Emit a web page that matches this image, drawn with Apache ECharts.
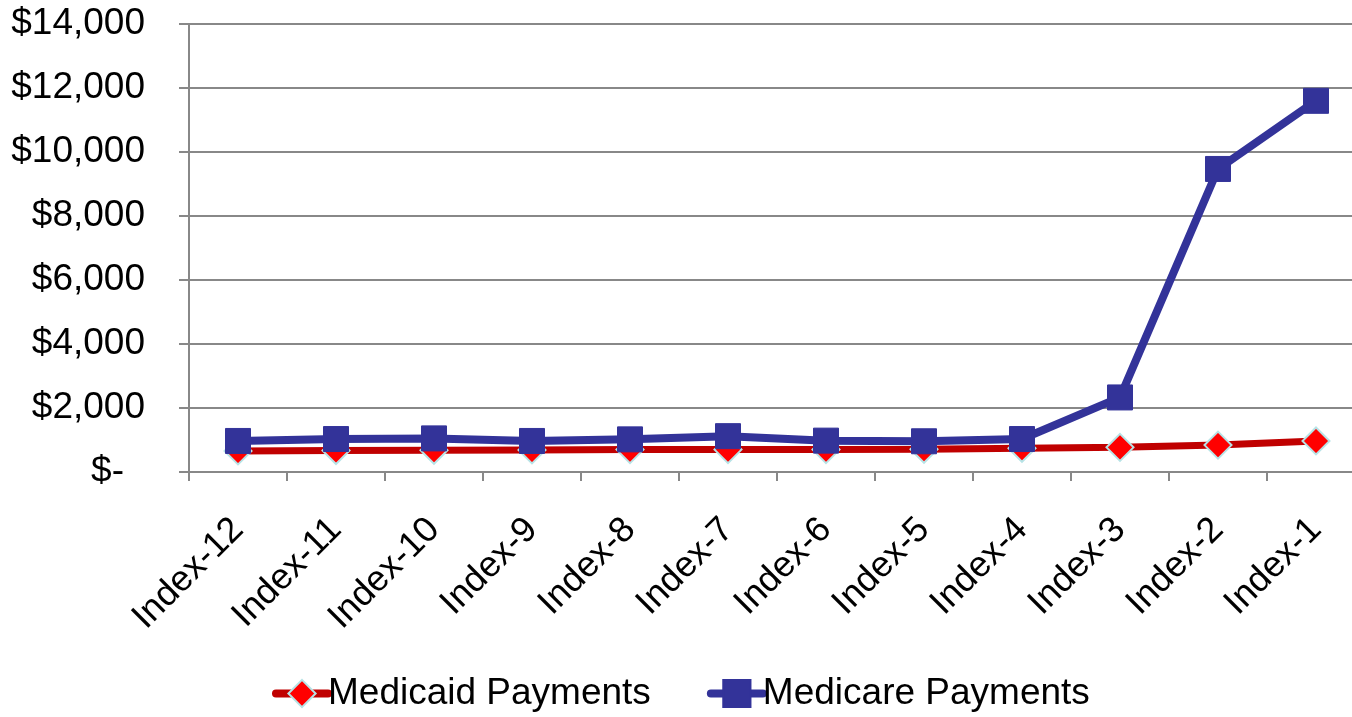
<!DOCTYPE html>
<html>
<head>
<meta charset="utf-8">
<script src="https://cdn.jsdelivr.net/npm/echarts@6/dist/echarts.min.js"></script>
<style>
html,body{margin:0;padding:0;background:#fff;}
#chart{width:1352px;height:717px;}
</style>
</head>
<body>
<div id="chart"></div>
<script>
var categories = ['Index-12','Index-11','Index-10','Index-9','Index-8','Index-7','Index-6','Index-5','Index-4','Index-3','Index-2','Index-1'];
var medicaid = [660, 670, 680, 690, 700, 700, 700, 710, 740, 770, 840, 970];
var medicare = [970, 1030, 1050, 970, 1020, 1120, 980, 960, 1030, 2330, 9470, 11600];
var seriesNames = ['Medicaid Payments', 'Medicare Payments'];

var chart = echarts.init(document.getElementById('chart'));
var font = '"Liberation Sans", Arial, sans-serif';
chart.setOption({
  animation: false,
  backgroundColor: '#ffffff',
  grid: { left: 189, top: 24, width: 1176, height: 448, containLabel: false, outerBoundsMode: 'none' },
  legend: {
    bottom: 0,
    left: 267,
    itemWidth: 52,
    itemHeight: 34,
    itemGap: 56,
    textStyle: { fontFamily: font, fontSize: 37, color: '#000', padding: [0, 0, 0, -5] },
    data: [
      { name: seriesNames[0], lineStyle: { width: 8, color: '#C00000', cap: 'round' } },
      { name: seriesNames[1], lineStyle: { width: 8, color: '#333399', cap: 'round' } }
    ]
  },
  xAxis: {
    type: 'category',
    data: categories,
    boundaryGap: true,
    axisLine: { lineStyle: { color: '#888', width: 2 } },
    axisTick: { show: true, length: 9, lineStyle: { color: '#888', width: 2 } },
    axisLabel: { rotate: 45, fontFamily: font, fontSize: 36, color: '#000', margin: 52, interval: 0 }
  },
  yAxis: {
    type: 'value',
    min: 0, max: 14000, interval: 2000,
    axisLine: { show: true, lineStyle: { color: '#888', width: 2 } },
    axisTick: { show: true, length: 10, lineStyle: { color: '#888', width: 2 } },
    splitLine: { lineStyle: { color: '#888', width: 2 } },
    axisLabel: {
      fontFamily: font, fontSize: 37, color: '#000', margin: 44,
      formatter: function (v) {
        if (v === 0) return '{z|$-}';
        return '$' + v.toLocaleString('en-US');
      },
      rich: { z: { fontFamily: font, fontSize: 37, color: '#000', padding: [0, 21, 0, 0] } }
    }
  },
  series: [
    {
      name: seriesNames[0],
      type: 'line',
      data: medicaid,
      symbol: 'diamond',
      symbolSize: [27, 27],
      lineStyle: { color: '#C00000', width: 7 },
      itemStyle: { color: '#FF0000', borderColor: '#B7E3E6', borderWidth: 2 },
      z: 2
    },
    {
      name: seriesNames[1],
      type: 'line',
      data: medicare,
      symbol: 'rect',
      symbolSize: 25,
      lineStyle: { color: '#333399', width: 8 },
      itemStyle: { color: '#333399', borderColor: '#333399', borderWidth: 1 },
      z: 3
    }
  ]
});
</script>
</body>
</html>
